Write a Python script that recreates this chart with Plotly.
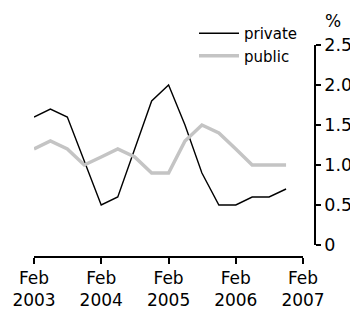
import plotly.graph_objects as go

dates = ["2003-02-01", "2003-05-01", "2003-08-01", "2003-11-01",
         "2004-02-01", "2004-05-01", "2004-08-01", "2004-11-01",
         "2005-02-01", "2005-05-01", "2005-08-01", "2005-11-01",
         "2006-02-01", "2006-05-01", "2006-08-01", "2006-11-01"]
private = [1.6, 1.7, 1.6, 1.05, 0.5, 0.6, 1.2, 1.8, 2.0, 1.5, 0.9, 0.5, 0.5, 0.6, 0.6, 0.7]
public = [1.2, 1.3, 1.2, 1.0, 1.1, 1.2, 1.1, 0.9, 0.9, 1.3, 1.5, 1.4, 1.2, 1.0, 1.0, 1.0]

x_tickvals = ["2003-02-01", "2004-02-01", "2005-02-01", "2006-02-01", "2007-02-01"]
x_ticktext = ["Feb<br>2003", "Feb<br>2004", "Feb<br>2005", "Feb<br>2006", "Feb<br>2007"]
y_tickvals = [0, 0.5, 1.0, 1.5, 2.0, 2.5]
y_ticktext = ["0", "0.5", "1.0", "1.5", "2.0", "2.5"]

FONT = "DejaVu Sans"

fig = go.Figure()
fig.add_trace(go.Scatter(x=dates, y=private, mode="lines", name="private",
                         line=dict(color="#000000", width=1.4)))
fig.add_trace(go.Scatter(x=dates, y=public, mode="lines", name="public",
                         line=dict(color="#c4c4c4", width=3.5)))

# the page body adds an 8px offset, so the figure is 350x301
W, H = 350, 301
L, R, T, B = 26, 43, 37, 52
pw = W - L - R
ph = H - T - B

fig.update_layout(
    width=W, height=H,
    margin=dict(l=L, r=R, t=T, b=B, pad=0, autoexpand=False),
    paper_bgcolor="white", plot_bgcolor="white",
    font=dict(family=FONT, size=18, color="#000000"),
    showlegend=True,
    legend=dict(
        x=(186 - L) / pw, y=(H - B - 9) / ph, xanchor="left", yanchor="top",
        bgcolor="rgba(0,0,0,0)", font=dict(family=FONT, size=15, color="#000000"),
        itemwidth=40, tracegroupgap=0,
    ),
    xaxis=dict(
        domain=[0, (295 - L) / pw],
        range=["2003-02-01", "2007-02-01"],
        anchor="free", position=0,
        tickmode="array", tickvals=x_tickvals, ticktext=x_ticktext,
        ticks="outside", ticklen=6, tickwidth=1.5, tickcolor="#000000",
        showline=True, linecolor="#000000", linewidth=1.5,
        showgrid=False, zeroline=False,
        tickfont=dict(family=FONT, size=17, color="#000000"),
    ),
    yaxis=dict(
        domain=[12 / ph, 1],
        range=[0, 2.5],
        anchor="free", position=1, side="right",
        tickmode="array", tickvals=y_tickvals, ticktext=y_ticktext,
        ticks="outside", ticklen=5, tickwidth=1.5, tickcolor="#000000",
        showline=True, linecolor="#000000", linewidth=1.5,
        showgrid=False, zeroline=False,
        tickfont=dict(family=FONT, size=17.5, color="#000000"),
    ),
    annotations=[dict(
        text="%", xref="paper", yref="paper",
        x=1 + 18 / pw, y=1 + 24 / ph, xanchor="center", yanchor="middle",
        showarrow=False, font=dict(family=FONT, size=17, color="#000000"),
    )],
)

fig.write_html("out.html")
